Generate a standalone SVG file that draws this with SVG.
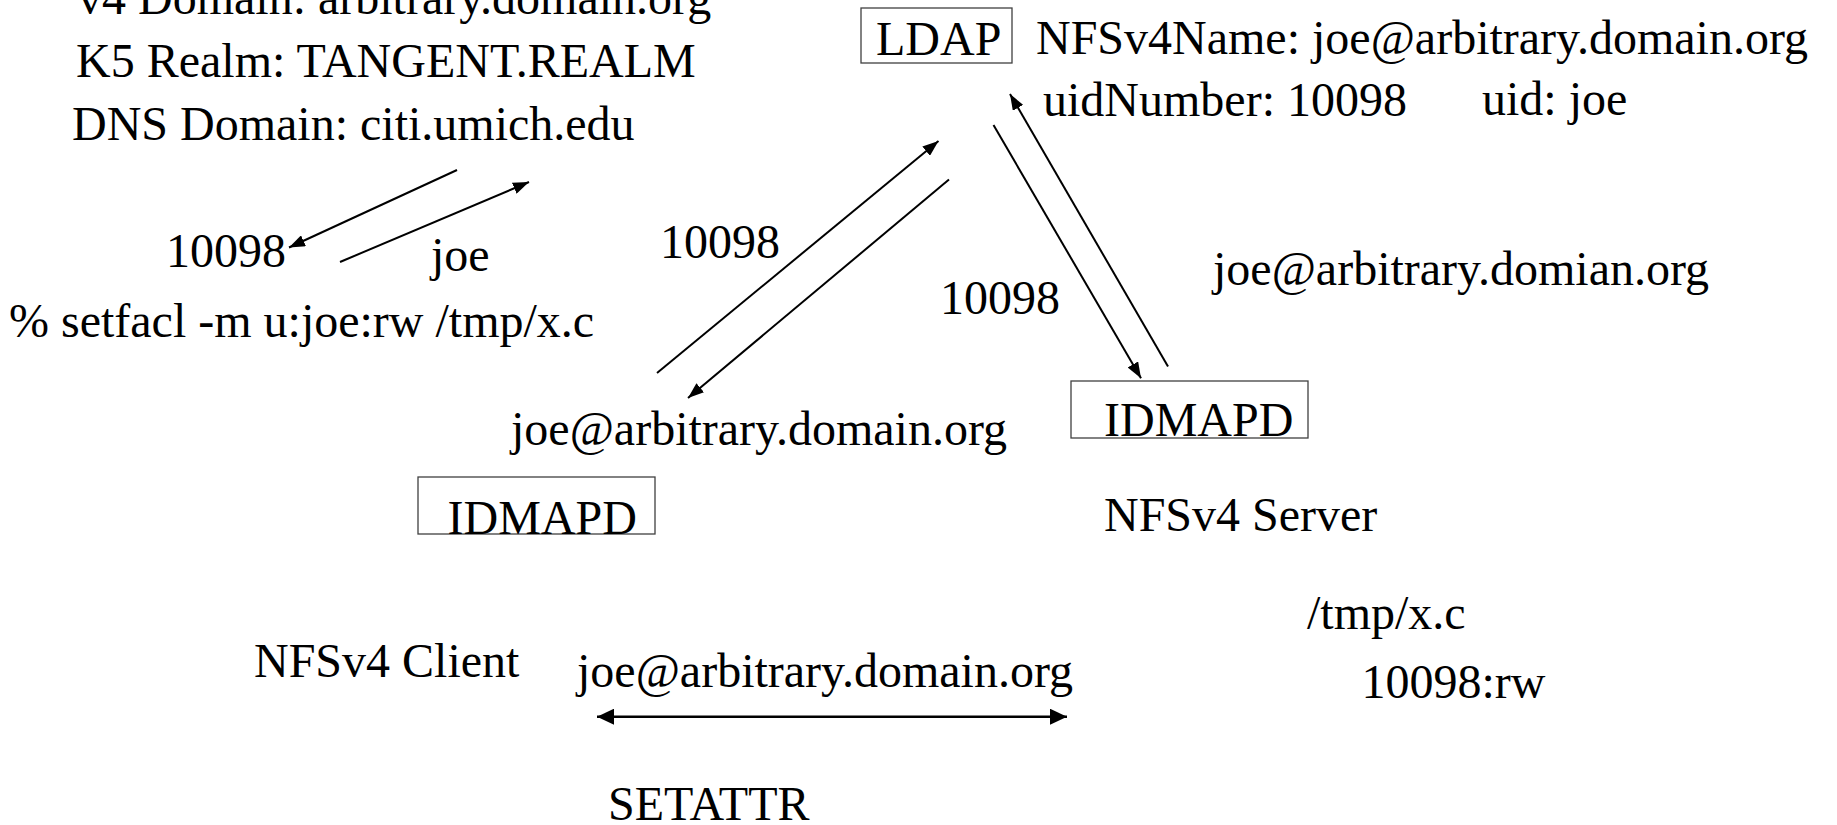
<svg xmlns="http://www.w3.org/2000/svg" width="1837" height="825" viewBox="0 0 1837 825">
<style>
text{font-family:"Liberation Serif","Times New Roman",serif;font-size:48px;fill:#000}
.box{fill:none;stroke:#404040;stroke-width:1.3}
.c{stroke:#000;stroke-width:2;fill:none;marker-end:url(#ah)}
.c2{stroke:#000;stroke-width:2.6;fill:none;marker-start:url(#ahb);marker-end:url(#ahb)}
</style>
<defs>
<marker id="ah" markerUnits="userSpaceOnUse" markerWidth="17" markerHeight="12" refX="16" refY="6" orient="auto"><path d="M0,0 L16,6 L0,12 z" fill="#000"/></marker>
<marker id="ahb" markerUnits="userSpaceOnUse" markerWidth="18" markerHeight="16" refX="17" refY="8" orient="auto-start-reverse"><path d="M0,0 L17,8 L0,16 z" fill="#000"/></marker>
</defs>
<rect width="1837" height="825" fill="#fff"/>
<g id="info-text">
<text x="78" y="13.5">v4 Domain: arbitrary.domain.org</text>
<text x="76" y="77">K5 Realm: TANGENT.REALM</text>
<text x="72" y="139.5">DNS Domain: citi.umich.edu</text>
</g>
<g id="labels">
<text x="166" y="266.5">10098</text>
<text x="431" y="271">joe</text>
<text x="9" y="336.5">% setfacl -m u:joe:rw /tmp/x.c</text>
<text x="660" y="258">10098</text>
<text x="511" y="445">joe@arbitrary.domain.org</text>
<text x="940" y="314">10098</text>
<text x="1213" y="285">joe@arbitrary.domian.org</text>
<text x="1036" y="54">NFSv4Name: joe@arbitrary.domain.org</text>
<text x="1043" y="116">uidNumber: 10098</text>
<text x="1482" y="114.5">uid: joe</text>
</g>
<g id="ldap">
<rect class="box" x="861" y="8" width="151" height="55"/>
<text x="876" y="55">LDAP</text>
</g>
<g id="idmapd-server">
<rect class="box" x="1071" y="381" width="237" height="57"/>
<text x="1104" y="436">IDMAPD</text>
</g>
<g id="idmapd-client">
<rect class="box" x="418" y="477" width="237" height="57"/>
<text x="447.5" y="533.5">IDMAPD</text>
</g>
<g id="server">
<text x="1104" y="530.5">NFSv4 Server</text>
<text x="1307" y="628.5">/tmp/x.c</text>
<text x="1361.5" y="698.3">10098:rw</text>
</g>
<g id="client">
<text x="254" y="677">NFSv4 Client</text>
</g>
<g id="setattr">
<text x="577" y="687">joe@arbitrary.domain.org</text>
<text x="608" y="820">SETATTR</text>
</g>
<g id="connectors">
<line class="c" x1="457" y1="170" x2="289" y2="247.5"/>
<line class="c" x1="340" y1="262" x2="529" y2="182"/>
<line class="c" x1="657" y1="373" x2="938.5" y2="141"/>
<line class="c" x1="949" y1="179.5" x2="688" y2="398"/>
<line class="c" x1="993.5" y1="125" x2="1141" y2="378.3"/>
<line class="c" x1="1168" y1="366.5" x2="1010" y2="94"/>
<line class="c2" x1="597" y1="716.7" x2="1067" y2="716.7"/>
</g>
</svg>
